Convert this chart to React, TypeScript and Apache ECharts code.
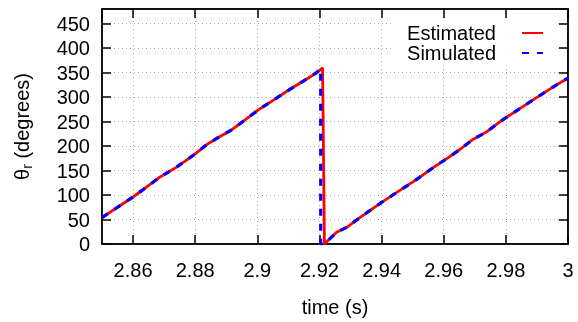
import React, { useEffect, useRef } from "react";
import * as echarts from "echarts";

// Estimated rotor angle (red solid)
const estTime = [2.85, 2.855, 2.86, 2.8645, 2.8687, 2.874, 2.878, 2.88, 2.8837, 2.887, 2.8917, 2.8966, 2.9003, 2.9057, 2.9105, 2.9159, 2.919, 2.921, 2.9216, 2.9255, 2.9288, 2.933, 2.94, 2.9465, 2.9513, 2.9566, 2.9604, 2.9652, 2.9695, 2.9738, 2.9786, 2.9829, 2.9894, 2.995, 3.0];
const estAngle = [54, 75, 96, 117, 137, 157, 175, 184, 203, 216, 233, 256, 274, 296, 316, 337, 349, 360, 0, 24, 34, 54, 85, 112, 132, 156, 172, 193, 214, 229, 252, 270, 297, 320, 339];

// Simulated rotor angle (blue dashed)
const simTime = [2.85, 2.855, 2.86, 2.8645, 2.8687, 2.874, 2.878, 2.88, 2.8837, 2.887, 2.8917, 2.8966, 2.9003, 2.9057, 2.9105, 2.9159, 2.919, 2.9204, 2.9204, 2.9216, 2.9255, 2.9288, 2.933, 2.94, 2.9465, 2.9513, 2.9566, 2.9604, 2.9652, 2.9695, 2.9738, 2.9786, 2.9829, 2.9894, 2.995, 3.0];
const simAngle = [54, 75, 96, 117, 137, 157, 175, 184, 203, 216, 233, 256, 274, 296, 316, 337, 350, 358, 0, 0, 24, 34, 54, 85, 112, 132, 156, 172, 193, 214, 229, 252, 270, 297, 320, 339];

const seriesNames = ["Estimated", "Simulated"];
const xMin = 2.85;
const xMax = 3.0;
const yMin = 0;
const yMax = 480;
const yInterval = 50;

const FONT = "'Liberation Sans', Arial, Helvetica, sans-serif";

export default function App() {
  const ref = useRef<HTMLDivElement>(null);
  useEffect(() => {
    if (!ref.current) return;
    const chart = echarts.init(ref.current, null, { renderer: "svg" });
    const est = estTime.map((t, i) => [t, estAngle[i]]);
    const sim = simTime.map((t, i) => [t, simAngle[i]]);
    const tickStyle = { show: true, inside: true, length: 9, lineStyle: { color: "#000", width: 1.5 } };
    const axisLine = { show: true, onZero: false, lineStyle: { color: "#000", width: 1.5 } };
    const splitLine = { show: true, lineStyle: { color: "#aaa", width: 1, type: [1, 3] as any } };
    chart.setOption({
      animation: false,
      textStyle: { fontFamily: FONT },
      grid: {
        left: 102, right: 10, top: 9, bottom: 75,
        show: true, borderColor: "#000", borderWidth: 1.5, backgroundColor: "transparent",
      },
      legend: {
        data: seriesNames,
        orient: "vertical",
        right: 22,
        top: 18,
        align: "right",
        itemWidth: 21,
        itemHeight: 14,
        itemGap: 0,
        padding: [5, 12, 2, 13],
        backgroundColor: "#fff",
        itemStyle: { color: "transparent", borderColor: "transparent", borderWidth: 0, opacity: 0 },
        formatter: "{t|{name}}",
        textStyle: {
          fontSize: 20, color: "#000", fontFamily: FONT, lineHeight: 20,
          rich: { t: { fontSize: 20, color: "#000", fontFamily: FONT, lineHeight: 20, padding: [0, 21, 0, 0] } },
        },
      },
      xAxis: [
        {
          type: "value", min: xMin, max: xMax, splitNumber: 7,
          name: "time (s)", nameLocation: "middle", nameGap: 53,
          nameTextStyle: { fontSize: 20, color: "#000", fontFamily: FONT },
          axisLine, axisTick: tickStyle, splitLine,
          axisLabel: { fontSize: 20, color: "#000", margin: 16, fontFamily: FONT, showMinLabel: false },
        },
        {
          type: "value", position: "top", min: xMin, max: xMax, splitNumber: 7,
          axisLine, axisTick: tickStyle, splitLine: { show: false }, axisLabel: { show: false },
        },
      ],
      yAxis: [
        {
          type: "value", min: yMin, max: yMax, interval: yInterval,
          name: "{a|θ}{b|r}{a| (degrees)}", nameLocation: "middle", nameGap: 68, nameRotate: 90,
          nameTextStyle: {
            fontFamily: FONT, color: "#000",
            rich: {
              a: { fontSize: 20, color: "#000", fontFamily: FONT },
              b: { fontSize: 14, color: "#000", fontFamily: FONT, padding: [10, 0, 0, 0] },
            },
          },
          axisLine, axisTick: tickStyle, splitLine,
          axisLabel: { fontSize: 20, color: "#000", margin: 12, fontFamily: FONT, showMaxLabel: false },
        },
        {
          type: "value", position: "right", min: yMin, max: yMax, interval: yInterval,
          axisLine, axisTick: tickStyle, splitLine: { show: false }, axisLabel: { show: false },
        },
      ],
      series: [
        {
          name: seriesNames[0], type: "line", data: est, showSymbol: false, symbol: "none",
          lineStyle: { color: "#ff0000", width: 2.8 }, itemStyle: { color: "#ff0000" }, z: 3,
        },
        {
          name: seriesNames[1], type: "line", data: sim, showSymbol: false, symbol: "none",
          lineStyle: { color: "#0000ff", width: 3.2, type: [7, 8] as any }, itemStyle: { color: "#0000ff" }, z: 4,
        },
      ],
    });
    return () => chart.dispose();
  }, []);
  return <div ref={ref} style={{ position: "fixed", left: 0, top: 0, width: 578, height: 322 }} />;
}
